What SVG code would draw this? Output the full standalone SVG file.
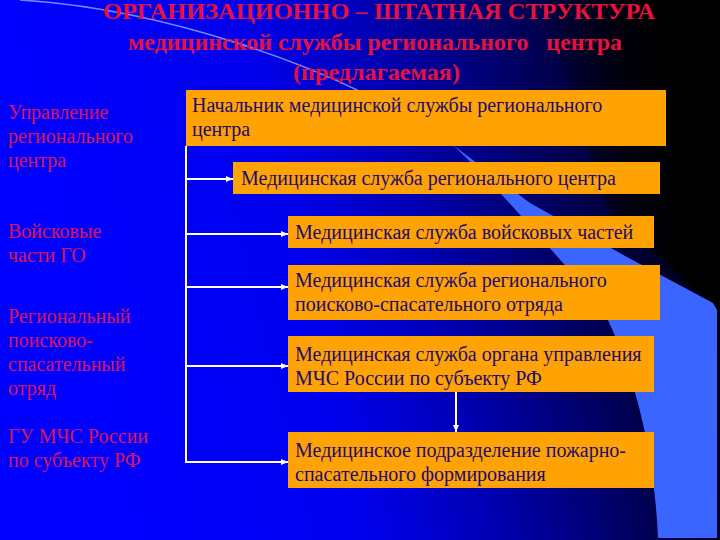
<svg xmlns="http://www.w3.org/2000/svg" width="720" height="540" viewBox="0 0 720 540">
<style>
.box{fill:#ffa305}
.bt{font-family:"Liberation Serif","Times New Roman",serif;font-size:20px;fill:#1c0c6c}
.lt{font-family:"Liberation Serif","Times New Roman",serif;font-size:20px;fill:#dc145a}
.tt{font-family:"Liberation Serif","Times New Roman",serif;font-weight:bold;font-size:23px;fill:#e8103e;text-anchor:start}
.ln{stroke:#ffffff;stroke-width:2;fill:none}
</style>
<defs>
<linearGradient id="bg" gradientUnits="userSpaceOnUse" x1="100" y1="400" x2="720" y2="250">
<stop offset="0" stop-color="#0000ff"/>
<stop offset="0.35" stop-color="#0000ee"/>
<stop offset="0.55" stop-color="#0000b4"/>
<stop offset="0.75" stop-color="#000064"/>
<stop offset="0.9" stop-color="#000028"/>
<stop offset="1" stop-color="#000008"/>
</linearGradient>
<linearGradient id="dk" gradientUnits="userSpaceOnUse" x1="540" y1="0" x2="680" y2="0">
<stop offset="0" stop-color="#000000" stop-opacity="0"/>
<stop offset="1" stop-color="#000000" stop-opacity="1"/>
</linearGradient>
<marker id="ah" markerWidth="8" markerHeight="8" refX="7" refY="4" orient="auto" markerUnits="userSpaceOnUse">
<path d="M0,1 L7,4 L0,7 Z" fill="#ffffff"/>
</marker>
</defs>
<g id="background">
<rect x="0" y="0" width="720" height="540" fill="url(#bg)"/>
<path d="M540,0 L720,0 L720,312 L607,208 Z" fill="url(#dk)"/>
<path d="M453,145 L530,203 L627,257 L713,303 L717,310 L717,538 L658,538 C655,470 642,392 607,318 C590,290 576,276 563,263 C530,226 490,180 453,145 Z" fill="#3a66ff"/>
<path d="M20,0 C150,8 330,60 453,145" stroke="#6f8cff" stroke-width="1.6" fill="none"/>
</g>
<g id="title">
<text class="tt" x="103" y="19" textLength="552" lengthAdjust="spacingAndGlyphs">ОРГАНИЗАЦИОННО – ШТАТНАЯ СТРУКТУРА</text>
<text class="tt" x="128" y="50" textLength="494" lengthAdjust="spacingAndGlyphs" xml:space="preserve">медицинской службы регионального   центра</text>
<text class="tt" x="293" y="80" textLength="167" lengthAdjust="spacingAndGlyphs">(предлагаемая)</text>
</g>
<g id="left-labels">
<text class="lt" x="8" y="119">Управление</text>
<text class="lt" x="8" y="143">регионального</text>
<text class="lt" x="8" y="167">центра</text>
<text class="lt" x="8" y="238">Войсковые</text>
<text class="lt" x="8" y="262">части ГО</text>
<text class="lt" x="8" y="323">Региональный</text>
<text class="lt" x="8" y="347">поисково-</text>
<text class="lt" x="8" y="371">спасательный</text>
<text class="lt" x="8" y="395">отряд</text>
<text class="lt" x="8" y="443">ГУ МЧС России</text>
<text class="lt" x="8" y="467">по субъекту РФ</text>
</g>
<g id="node-chief">
<rect class="box" x="186" y="90" width="480" height="56"/>
<text class="bt" x="192" y="112">Начальник медицинской службы регионального</text>
<text class="bt" x="192" y="136">центра</text>
</g>
<g id="node-rc">
<rect class="box" x="233" y="162" width="427" height="32"/>
<text class="bt" x="241" y="185">Медицинская служба регионального центра</text>
</g>
<g id="node-troops">
<rect class="box" x="288" y="216" width="366" height="32"/>
<text class="bt" x="295" y="239">Медицинская служба войсковых частей</text>
</g>
<g id="node-rescue">
<rect class="box" x="288" y="265" width="372" height="55"/>
<text class="bt" x="295" y="287">Медицинская служба регионального</text>
<text class="bt" x="295" y="311">поисково-спасательного отряда</text>
</g>
<g id="node-mchs">
<rect class="box" x="288" y="336" width="366" height="56"/>
<text class="bt" x="295" y="361">Медицинская служба органа управления</text>
<text class="bt" x="295" y="385">МЧС России по субъекту РФ</text>
</g>
<g id="node-fire">
<rect class="box" x="288" y="432" width="366" height="56"/>
<text class="bt" x="295" y="457">Медицинское подразделение пожарно-</text>
<text class="bt" x="295" y="481">спасательного формирования</text>
</g>
<g id="connectors">
<path class="ln" d="M186,146 L186,463"/>
<path class="ln" d="M186,179 L233,179" marker-end="url(#ah)"/>
<path class="ln" d="M186,234 L288,234" marker-end="url(#ah)"/>
<path class="ln" d="M186,287 L288,287" marker-end="url(#ah)"/>
<path class="ln" d="M186,366 L288,366" marker-end="url(#ah)"/>
<path class="ln" d="M185,462 L288,462" marker-end="url(#ah)"/>
<path class="ln" d="M456,392 L456,432" marker-end="url(#ah)"/>
</g>
</svg>
